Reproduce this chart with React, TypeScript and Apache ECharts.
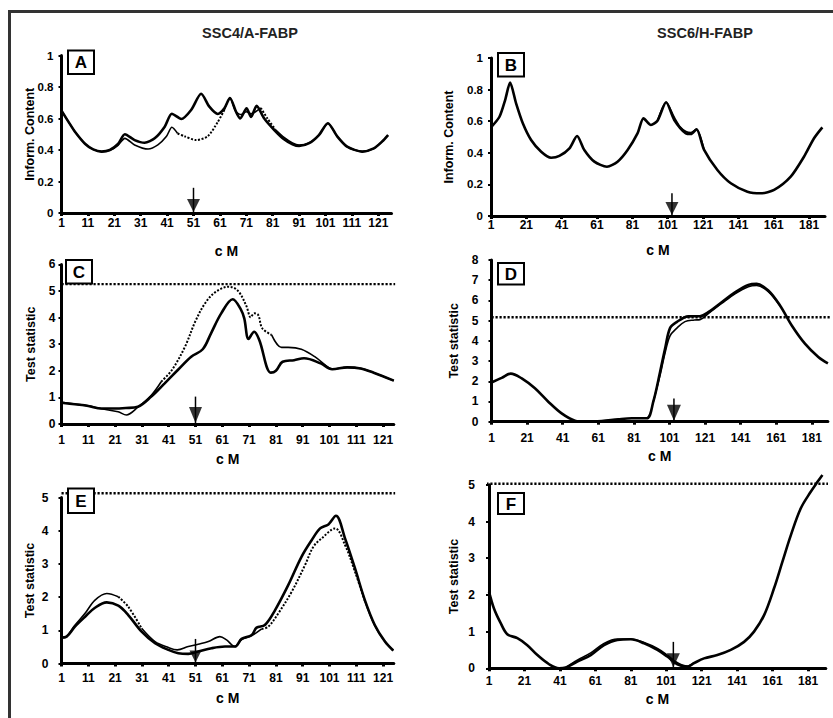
import React, { useEffect, useRef } from 'react';
import * as echarts from 'echarts';

type Pt = [number, number];

// ---------- texts ----------
const columnTitles = ['SSC4/A-FABP', 'SSC6/H-FABP'];
const panelLetters = ['A', 'B', 'C', 'D', 'E', 'F'];
const yAxisNames = ['Inform. Content', 'Inform. Content', 'Test statistic', 'Test statistic', 'Test statistic', 'Test statistic'];
const xAxisName = 'c M';

// ---------- tick labels (cM) ----------
const xTicksSSC4 = [1, 11, 21, 31, 41, 51, 61, 71, 81, 91, 101, 111, 121];
const xTicksSSC6 = [1, 21, 41, 61, 81, 101, 121, 141, 161, 181];
const yTicksInfo = [0, 0.2, 0.4, 0.6, 0.8, 1];
const yTicksC = [0, 1, 2, 3, 4, 5, 6];
const yTicksD = [0, 1, 2, 3, 4, 5, 6, 7, 8];
const yTicksEF = [0, 1, 2, 3, 4, 5];

// ---------- series values [cM, value] ----------
const A_main: Pt[] = [[1,0.65],[3.6,0.58],[6.1,0.516],[9.9,0.44],[13,0.404],[16.2,0.39],[19.3,0.4],[22.4,0.438],[25,0.5],[28.7,0.463],[32.5,0.446],[36.3,0.474],[40.1,0.548],[42.8,0.63],[46.4,0.597],[50.1,0.654],[53.9,0.757],[57,0.675],[60.2,0.629],[62.7,0.665],[64.8,0.73],[67.1,0.643],[68.7,0.6],[71.1,0.665],[72.8,0.61],[74.9,0.68],[77.8,0.6],[81.6,0.527],[85.3,0.468],[88.5,0.436],[91,0.425],[94.8,0.443],[98.5,0.495],[101.9,0.57],[105.5,0.485],[109.2,0.421],[114.9,0.39],[119.3,0.41],[122.4,0.453],[124.7,0.495]];
const A_alt: Pt[] = [[1,0.65],[3.6,0.58],[6.1,0.516],[9.9,0.44],[13,0.404],[16.2,0.39],[19.3,0.398],[22.4,0.43],[25,0.474],[28.7,0.432],[33.8,0.406],[37.5,0.432],[40.7,0.485],[42.8,0.544],[45,0.505],[47.6,0.487],[52,0.463],[56.4,0.487],[60.2,0.578],[62.7,0.655],[64.8,0.73],[67.1,0.643],[69,0.625],[71,0.643],[72.8,0.63],[76.5,0.667],[79,0.6],[82,0.53],[85.3,0.48],[88.5,0.445],[91,0.432],[94.8,0.445],[98.5,0.495],[101.9,0.57],[105.5,0.485],[109.2,0.421],[114.9,0.39],[119.3,0.41],[122.4,0.453],[124.7,0.495]];

const B_main: Pt[] = [[1,0.561],[5.8,0.628],[9,0.734],[11.8,0.844],[15.2,0.713],[19,0.587],[23.7,0.481],[29.4,0.407],[35,0.369],[39.7,0.38],[45.4,0.428],[49.7,0.506],[53.8,0.418],[59.5,0.344],[66.6,0.312],[72.6,0.344],[78.3,0.418],[83.9,0.523],[87.3,0.618],[91.5,0.576],[95.2,0.603],[100.1,0.72],[104.7,0.608],[111.3,0.523],[114.1,0.519],[117.3,0.549],[121.6,0.418],[129.1,0.291],[136.7,0.207],[146.1,0.154],[153.7,0.144],[161.2,0.165],[170.6,0.249],[178.1,0.375],[183.8,0.492],[188.5,0.561]];
const B_alt: Pt[] = [[95.2,0.603],[100.1,0.72],[104.7,0.625],[108,0.565],[111.3,0.535],[114.1,0.528],[117.3,0.549],[121.6,0.418]];

const C_main: Pt[] = [[1,0.8],[6,0.74],[11,0.68],[15.9,0.58],[20.3,0.58],[25,0.6],[29.5,0.65],[34.5,1.03],[39.5,1.53],[44.4,2.03],[49.4,2.53],[53.7,2.81],[56.8,3.41],[60.6,4.16],[64.9,4.69],[68,4.29],[69.2,3.97],[70.8,3.2],[72.9,3.47],[74.8,3.16],[79.1,1.93],[81,2.0],[83.5,2.34],[87.8,2.4],[91.5,2.47],[97.7,2.28],[102,2.06],[107.6,2.13],[112.6,2.09],[117.5,1.93],[125,1.63]];
const C_alt: Pt[] = [[1,0.82],[6,0.75],[11,0.68],[15.9,0.57],[22.1,0.46],[25.2,0.34],[29.5,0.63],[34.5,1.08],[38.2,1.59],[42.2,2.03],[47.1,2.91],[50.9,3.85],[54.6,4.54],[58.3,4.95],[63.3,5.16],[65.7,5.1],[67.6,4.91],[70.1,4.41],[71.6,4.01],[72.9,4.16],[74.4,4.1],[75.9,3.6],[79.4,3.35],[83.1,2.88],[85.6,2.88],[90.5,2.81],[95.5,2.53],[100.5,2.13],[102,2.06],[107.6,2.13],[112.6,2.09],[117.5,1.93],[125,1.63]];

const D_main: Pt[] = [[1,1.94],[6.7,2.17],[11.8,2.38],[18,2.14],[25.4,1.65],[32.9,0.99],[40.4,0.41],[47.9,0.05],[53.5,0],[62.9,0.03],[72.2,0.12],[79.8,0.17],[88.2,0.17],[91.9,0.99],[95.7,2.46],[98.5,3.61],[101.3,4.63],[105,4.93],[111.6,5.21],[118.1,5.22],[122.8,5.42],[130.3,5.91],[137.8,6.4],[145.3,6.77],[150,6.82],[156.5,6.49],[163.1,5.75],[169.7,4.76],[177.1,3.86],[184.6,3.2],[190,2.88]];
const D_alt: Pt[] = [[91.9,0.99],[95.7,2.3],[98.5,3.4],[101.3,4.25],[105,4.62],[109.7,4.95],[115,5.03],[118.1,5.05],[122.8,5.35],[130.3,5.85],[137.8,6.33],[145.3,6.68],[150,6.74],[156.5,6.43],[163.1,5.72]];

const E_main: Pt[] = [[1,0.78],[2.9,0.81],[6,1.11],[9.8,1.41],[13.5,1.68],[17.9,1.84],[22.2,1.74],[25.9,1.46],[30.9,0.96],[35.9,0.61],[40.9,0.41],[44.6,0.31],[48.3,0.29],[52,0.36],[57,0.46],[62,0.51],[65.7,0.51],[68.2,0.74],[72,0.86],[73.8,1.08],[76.9,1.16],[80.7,1.61],[85.6,2.36],[90.6,3.22],[94.4,3.72],[97.5,4.07],[100.6,4.19],[103.4,4.45],[106.8,3.77],[110.5,2.87],[114.2,1.91],[117.9,1.16],[121.7,0.66],[124.8,0.39]];
const E_alt: Pt[] = [[1,0.78],[2.9,0.82],[6,1.15],[9.8,1.51],[13.5,1.91],[17.9,2.11],[22.2,2.01],[25.9,1.71],[30.9,1.06],[35.9,0.66],[40.9,0.48],[44.2,0.41],[48.3,0.51],[52,0.58],[55.8,0.66],[60.1,0.81],[62.6,0.71],[65.7,0.51],[68.2,0.72],[72,0.84],[75.7,1.04],[78.2,1.11],[81.9,1.51],[86.9,2.16],[91.9,2.97],[95,3.52],[98.1,3.77],[103.1,4.07],[106.8,3.57],[110.5,2.77],[114.2,1.88],[117.9,1.14],[121.7,0.66],[124.8,0.39]];

const F_main: Pt[] = [[1,2.09],[3.8,1.63],[7.6,1.23],[11.3,0.93],[17,0.82],[22.6,0.63],[28.3,0.36],[34.9,0.11],[40.5,0],[44.3,0.02],[50.8,0.18],[58.4,0.36],[65.9,0.63],[73.4,0.77],[81,0.79],[88.5,0.68],[96,0.5],[101.6,0.32],[107.3,0.11],[112.9,0.04],[116.7,0.14],[122.3,0.27],[129.8,0.36],[137.4,0.5],[144.9,0.72],[150.5,1.0],[156.2,1.45],[161.8,2.18],[166.5,2.9],[171.3,3.63],[176.9,4.36],[182.5,4.81],[186.3,5.08],[189.1,5.27]];
const F_alt: Pt[] = [[44.3,0.02],[50.8,0.22],[58.4,0.42],[65.9,0.68],[73.4,0.8],[81,0.8],[88.5,0.7],[96,0.54],[101.6,0.36],[107.3,0.15],[112.9,0.06],[116.7,0.16]];

// dotted stretches of the second curve (cM ranges)
const A_dotted: Pt[] = [[44, 61], [73, 80]];
const C_dotted: Pt[] = [[36, 79]];
const E_dotted: Pt[] = [[22, 28], [74, 114]];

// thresholds and QTL/gene position arrows
const thresholds = [null, null, 5.26, 5.17, 5.13, 5.03];
const arrowCM = [51, 103.4, 51, 103.5, 51, 105];
const arrowTop = [0.16, 0.144, 1.03, 1.15, 0.74, 0.72];

const panelData = [
  { main: A_main, alt: A_alt, dotted: A_dotted, xTicks: xTicksSSC4, yTicks: yTicksInfo },
  { main: B_main, alt: B_alt, dotted: [] as Pt[], xTicks: xTicksSSC6, yTicks: yTicksInfo },
  { main: C_main, alt: C_alt, dotted: C_dotted, xTicks: xTicksSSC4, yTicks: yTicksC },
  { main: D_main, alt: D_alt, dotted: [] as Pt[], xTicks: xTicksSSC6, yTicks: yTicksD },
  { main: E_main, alt: E_alt, dotted: E_dotted, xTicks: xTicksSSC4, yTicks: yTicksEF },
  { main: F_main, alt: F_alt, dotted: [] as Pt[], xTicks: xTicksSSC6, yTicks: yTicksEF },
];

// ---------- layout (pixels) ----------
const layout = [
  { left: 61.5, top: 55.5, width: 330, height: 157.5, xMax: 126, thrSpan: [1, 125], yNameGap: 25, xNameGap: 31, xLabMargin: 4, yLabMargin: 8, yLabSize: 11.5, smooth: 0.25, box: [68, 50.5, 26, 23.5], arrow: [13, 13] },
  { left: 491, top: 58, width: 334, height: 158, xMax: 190, thrSpan: [1, 190], yNameGap: 36, xNameGap: 27, xLabMargin: 3, yLabMargin: 8, yLabSize: 11.5, smooth: 0.25, box: [498, 53, 26, 23.5], arrow: [13, 13] },
  { left: 61.5, top: 264.4, width: 332.3, height: 159.6, xMax: 125, thrSpan: [1, 125.5], yNameGap: 24, xNameGap: 28, xLabMargin: 10, yLabMargin: 6, yLabSize: 12, smooth: 0.35, box: [66, 260, 26, 23.5], arrow: [13, 16] },
  { left: 491.5, top: 260, width: 336.4, height: 161.7, xMax: 190, thrSpan: [1, 194], yNameGap: 31, xNameGap: 27, xLabMargin: 10, yLabMargin: 13, yLabSize: 12, smooth: 0.35, box: [498, 263, 26, 21.5], arrow: [14, 16] },
  { left: 61.5, top: 497.5, width: 332.3, height: 166, xMax: 125, thrSpan: [1, 125.5], yNameGap: 25, xNameGap: 27, xLabMargin: 8, yLabMargin: 13, yLabSize: 12, smooth: 0.35, box: [68, 488.5, 26, 24.5], arrow: [12, 12] },
  { left: 489, top: 484.8, width: 336.8, height: 183.5, xMax: 191, thrSpan: [-0.5, 194], yNameGap: 29, xNameGap: 24, xLabMargin: 7, yLabMargin: 14, yLabSize: 12, smooth: 0.35, box: [498, 493, 26, 21], arrow: [13, 14] },
];

const FONT = '"Liberation Sans", Arial, Helvetica, sans-serif';
const BLACK = '#000';

function runs(data: Pt[], ranges: Pt[]) {
  const flags = data.map((p) => ranges.some((r) => p[0] >= r[0] && p[0] <= r[1]));
  const out: { dotted: boolean; pts: Pt[] }[] = [];
  let cur: { dotted: boolean; pts: Pt[] } = { dotted: flags[0], pts: [data[0]] };
  for (let i = 1; i < data.length; i++) {
    cur.pts.push(data[i]);
    if (flags[i] !== cur.dotted) {
      out.push(cur);
      cur = { dotted: flags[i], pts: [data[i]] };
    }
  }
  if (cur.pts.length > 1) out.push(cur);
  return out;
}

const toAxis = (pts: Pt[]) => pts.map(([x, y]) => [x - 1, y]);

function fmtY(v: number) {
  return v === 0 ? '0' : String(+v.toFixed(1));
}

function buildOption() {
  const grid: any[] = [];
  const xAxis: any[] = [];
  const yAxis: any[] = [];
  const series: any[] = [];
  const graphic: any[] = [];

  panelData.forEach((p, i) => {
    const L = layout[i];
    grid.push({ left: L.left, top: L.top, width: L.width, height: L.height });
    const xCustom = p.xTicks.map((t) => t - 1);
    xAxis.push({
      type: 'value', gridIndex: i, min: 0, max: L.xMax - 1, interval: p.xTicks[1] - p.xTicks[0],
      name: xAxisName, nameLocation: 'middle', nameGap: L.xNameGap, nameMoveOverlap: false,
      nameTextStyle: { fontFamily: FONT, fontWeight: 'bold', fontSize: 14, color: BLACK },
      axisLine: { show: true, onZero: false, lineStyle: { color: BLACK, width: 3 } },
      axisTick: { show: true, length: 3, customValues: xCustom, lineStyle: { color: BLACK, width: 3 } },
      axisLabel: {
        customValues: xCustom, margin: L.xLabMargin, hideOverlap: false,
        formatter: (v: number) => String(Math.round(v) + 1),
        fontFamily: FONT, fontWeight: 'bold', fontSize: 12, color: BLACK,
      },
      splitLine: { show: false },
    });
    const yMax = p.yTicks[p.yTicks.length - 1];
    yAxis.push({
      type: 'value', gridIndex: i, min: 0, max: yMax, interval: p.yTicks[1] - p.yTicks[0],
      name: yAxisNames[i], nameLocation: 'middle', nameRotate: 90, nameGap: L.yNameGap, nameMoveOverlap: false,
      nameTextStyle: { fontFamily: FONT, fontWeight: 'bold', fontSize: 12.5, color: BLACK },
      axisLine: { show: true, lineStyle: { color: BLACK, width: 3 } },
      axisTick: { show: true, length: 3, lineStyle: { color: BLACK, width: 2 } },
      axisLabel: { formatter: fmtY, margin: L.yLabMargin, fontFamily: FONT, fontWeight: 'bold', fontSize: L.yLabSize, color: BLACK },
      splitLine: { show: false },
    });

    const base = { type: 'line', xAxisIndex: i, yAxisIndex: i, symbol: 'none', silent: true, clip: false, smooth: L.smooth };

    // second (thinner / dotted) curve
    runs(p.alt, p.dotted).forEach((r) => {
      series.push({
        ...base,
        data: toAxis(r.pts),
        z: 3,
        lineStyle: r.dotted
          ? { color: BLACK, width: 2, type: [2, 1.6] }
          : { color: BLACK, width: 1.6 },
      });
    });
    // main thick curve
    series.push({ ...base, data: toAxis(p.main), z: 4, lineStyle: { color: BLACK, width: 2.6 } });

    // threshold
    const thr = thresholds[i];
    if (thr != null) {
      series.push({
        ...base, smooth: false, z: 2,
        data: toAxis([[L.thrSpan[0], thr], [L.thrSpan[1], thr]]),
        lineStyle: { color: BLACK, width: 2.4, type: [2.2, 1.8] },
      });
    }

    // arrow
    series.push({
      ...base, smooth: false, z: 6,
      data: toAxis([[arrowCM[i], arrowTop[i]], [arrowCM[i], 0]]),
      lineStyle: { color: BLACK, width: 1.5 },
    });
    series.push({
      type: 'scatter', xAxisIndex: i, yAxisIndex: i, silent: true, z: 7, clip: false,
      data: toAxis([[arrowCM[i], 0]]),
      symbol: 'triangle', symbolRotate: 180,
      symbolSize: L.arrow, symbolOffset: [0, -L.arrow[1] / 2 - 1],
      itemStyle: { color: BLACK },
    });

    // letter box
    const [bx, by, bw, bh] = L.box;
    graphic.push({
      type: 'rect', shape: { x: bx, y: by, width: bw, height: bh }, z: 20,
      style: { fill: '#fff', stroke: BLACK, lineWidth: 2 },
    });
    graphic.push({
      type: 'text', x: bx + bw / 2, y: by + bh / 2 + 0.5, z: 21,
      style: {
        text: panelLetters[i], font: `bold 17px ${FONT}`, fill: BLACK,
        align: 'center', verticalAlign: 'middle', textAlign: 'center', textVerticalAlign: 'middle',
      },
    });
  });

  // column titles
  [250, 705].forEach((cx, k) => {
    graphic.push({
      type: 'text', x: cx, y: 33, z: 21,
      style: {
        text: columnTitles[k], font: `bold 14.5px ${FONT}`, fill: '#222',
        align: 'center', verticalAlign: 'middle', textAlign: 'center', textVerticalAlign: 'middle',
      },
    });
  });

  // outer frame (right and bottom edges fall outside the picture)
  graphic.push({
    type: 'rect', shape: { x: 9.5, y: 11.5, width: 900, height: 800 }, z: 0,
    style: { fill: 'none', stroke: '#333', lineWidth: 3 },
  });

  return { animation: false, backgroundColor: '#fff', grid, xAxis, yAxis, series, graphic };
}

export default function App() {
  const ref = useRef<HTMLDivElement>(null);
  useEffect(() => {
    if (!ref.current) return;
    const chart = echarts.init(ref.current, null, { renderer: 'svg' });
    chart.setOption(buildOption() as any);
    return () => chart.dispose();
  }, []);
  return (
    <div
      ref={ref}
      style={{ position: 'absolute', left: 0, top: 0, width: 833, height: 718, background: '#fff' }}
    />
  );
}
